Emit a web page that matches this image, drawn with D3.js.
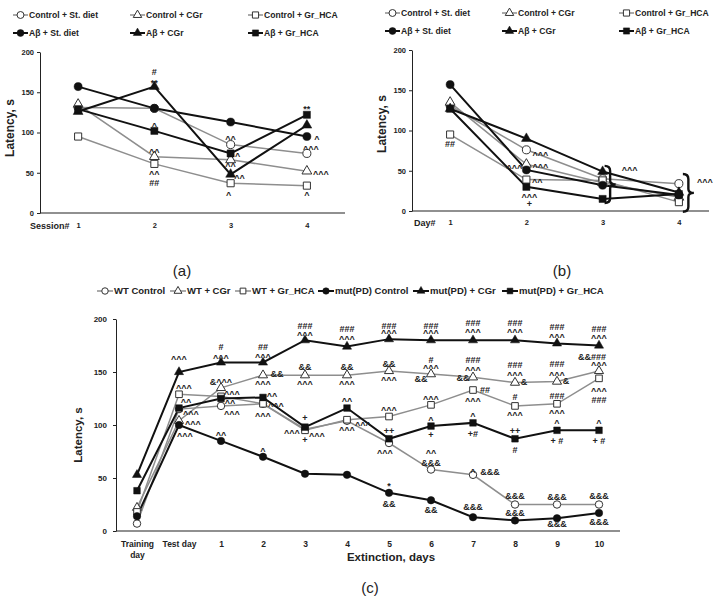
<!DOCTYPE html>
<html><head><meta charset="utf-8">
<script src="https://cdn.jsdelivr.net/npm/d3@7"></script>
<style>
html,body{margin:0;padding:0;background:#fff;}
svg text{font-family:"Liberation Sans",Arial,sans-serif;font-weight:bold;fill:#222;}
</style></head>
<body><svg id="chart" width="724" height="601"></svg>
<script>
// ---------- DATA ----------
const sessionsA = ["1","2","3","4"];
const daysB = ["1","2","3","4"];
const groupsAB = ["Control + St. diet","Control + CGr","Control + Gr_HCA","Aβ + St. diet","Aβ + CGr","Aβ + Gr_HCA"];
const a_ctrlStDiet = [131,130,85,74];
const a_ctrlCGr    = [135,70,66,52];
const a_ctrlGrHCA  = [95,61,37,34];
const a_abStDiet   = [157,130,113,95];
const a_abCGr      = [126,157,48,109];
const a_abGrHCA    = [129,102,74,122];

const b_ctrlStDiet = [131,76,40,34];
const b_ctrlCGr    = [135,58,35,17];
const b_ctrlGrHCA  = [95,39,38,11];
const b_abStDiet   = [157,51,32,20];
const b_abCGr      = [127,90,49,23];
const b_abGrHCA    = [127,30,15,21];

const catsC = ["Training day","Test day","1","2","3","4","5","6","7","8","9","10"];
const groupsC = ["WT Control","WT + CGr","WT + Gr_HCA","mut(PD) Control","mut(PD) + CGr","mut(PD) + Gr_HCA"];
const c_wtControl  = [7,115,118,120,96,104,83,58,53,25,25,25];
const c_wtCGr      = [22,104,135,147,147,147,151,148,145,140,141,151];
const c_wtGrHCA    = [18,129,127,120,95,105,108,119,133,118,120,144];
const c_mutControl = [14,100,85,70,54,53,36,29,13,10,12,17];
const c_mutCGr     = [53,150,159,159,180,174,181,180,180,180,177,175];
const c_mutGrHCA   = [38,116,125,126,98,116,87,99,102,87,95,95];

const yTicks = [0,50,100,150,200];

// significance labels: [category, value-level, text, horizontal nudge]
const notesA = [
 ["2",175,"#",0],["2",165,"**",0],["2",110,"^",0],["2",78,"^^",0],["2",51,"^^",0],["2",38,"##",0],
 ["3",94,"^^",0],["3",73,"^",7],["3",61,"^^",0],["3",46,"^^",9],["3",25,"^",-2],
 ["4",132,"**",0],["4",94,"^",10],["4",82,"^^^",4],["4",51,"^^^",14],["4",25,"^",0]
];
const notesB = [
 ["1",84,"##",0],
 ["2",72,"^^^",14],["2",57,"^^^",14],["2",55,"^^^",-12],["2",38,"^^",11],["2",19,"^^^",3],["2",9,"+",3],
 ["3",53,"^^^",27],["4",38,"^^^",26]
];
const bracesB = [["3",10,56,2],["4",-1,46,4]];
const notesC = [
 ["Test day",164,"^^^",0],["Test day",137,"^^^",5],["Test day",123,"^^",7],["Test day",112,"^^^",12],["Test day",103,"^^^",14],["Test day",91,"^^^",6],
 ["1",174,"#",0],["1",165,"^^^",0],["1",141,"&^^^",0],["1",131,"^^^",11],["1",122,"^^",9],["1",112,"^^^",11],["1",92,"^^",0],
 ["2",174,"##",0],["2",166,"^^^",0],["2",148,"&&",14],["2",140,"^^^",0],["2",129,"^^",9],["2",120,"^^^",13],["2",110,"^^^",0],["2",77,"^",0],
 ["3",194,"###",0],["3",187,"^^^",0],["3",155,"&&",0],["3",140,"^^^",0],["3",107,"+",0],["3",94,"^^^",-13],["3",91,"^^^",12],["3",86,"+",0],
 ["4",191,"###",0],["4",183,"^^^",0],["4",155,"&&",0],["4",140,"^^^",0],["4",124,"^^",0],["4",102,"^^^",16],["4",97,"^^^",0],
 ["5",194,"###",0],["5",188,"^^^",0],["5",158,"&&",0],["5",144,"^^^",0],["5",116,"^^^",0],["5",95,"++",0],["5",75,"^^^",-4],["5",45,"*",0],["5",26,"&&",0],
 ["6",194,"###",0],["6",188,"^^^",0],["6",162,"#",0],["6",155,"^^^",0],["6",144,"&&",-10],["6",126,"^^^",0],["6",106,"^",0],["6",91,"+",0],["6",75,"^^",0],["6",64,"&&&",0],["6",20,"&&",0],
 ["7",196,"###",0],["7",189,"^^^",0],["7",162,"###",0],["7",154,"^^^",0],["7",145,"&&",-10],["7",133,"##",12],["7",124,"^^^",0],["7",110,"^",0],["7",92,"+#",0],["7",57,"^",0],["7",56,"&&&",17],["7",23,"&&&",0],
 ["8",196,"###",0],["8",189,"^^^",0],["8",157,"###",0],["8",149,"^^^",0],["8",141,"&",9],["8",127,"#",0],["8",111,"^^^",0],["8",95,"++",0],["8",77,"#",0],["8",33,"&&&",0],["8",17,"&&&",0],
 ["9",193,"###",0],["9",185,"^^^",0],["9",158,"###",0],["9",149,"^^^",0],["9",142,"&",9],["9",128,"###",0],["9",113,"^^^",0],["9",104,"^",0],["9",85,"+ #",0],["9",32,"&&&",0],["9",7,"&&&",0],
 ["10",191,"###",0],["10",184,"^^^",0],["10",164,"&&###",-7],["10",158,"^^^",0],["10",134,"^^^",0],["10",124,"###",0],["10",104,"^",0],["10",85,"+ #",0],["10",33,"&&&",0],["10",9,"&&&",0]
];

// ---------- STYLE ----------
const GRAY = "#8e8e8e", BLACK = "#111";
const seriesStyle = [
 {color:GRAY, shape:d3.symbolCircle, filled:false, w:1.5},
 {color:GRAY, shape:d3.symbolTriangle, filled:false, w:1.5},
 {color:GRAY, shape:d3.symbolSquare, filled:false, w:1.5},
 {color:BLACK, shape:d3.symbolCircle, filled:true, w:2},
 {color:BLACK, shape:d3.symbolTriangle, filled:true, w:2},
 {color:BLACK, shape:d3.symbolSquare, filled:true, w:2}
];
const svg = d3.select("#chart");

function symSize(shape, k){
  if (shape===d3.symbolCircle) return 46*k;
  if (shape===d3.symbolSquare) return 46*k;
  return 38*k;
}
function drawMarker(g, st, x, y, k){
  g.append("path")
   .attr("d", d3.symbol().type(st.shape).size(symSize(st.shape,k))())
   .attr("transform", `translate(${x},${y})`)
   .attr("fill", st.filled ? BLACK : "#fff")
   .attr("stroke", st.filled ? BLACK : "#333")
   .attr("stroke-width", st.filled ? 0.5 : 1);
}
function noteOffset(t, fs){
  if (/^\^+$/.test(t)) return 0.53*fs;
  if (/^\*+$/.test(t)) return 0.6*fs;
  return 0.36*fs;
}

function drawPanel(o){
  const g = svg.append("g");
  const x = d3.scalePoint().domain(o.cats).range(o.xr).padding(0.5);
  const y = d3.scaleLinear().domain([0,200]).range(o.yr);
  const ya = g.append("g").attr("transform",`translate(${o.xr[0]},0)`)
    .call(d3.axisLeft(y).tickValues(yTicks).tickSize(3).tickSizeOuter(0).tickPadding(o.tickPad));
  ya.select(".domain").attr("stroke","#222").attr("stroke-width",1);
  ya.selectAll(".tick line").attr("stroke","#222");
  ya.selectAll(".tick text").attr("font-size",o.tickFs).attr("font-family",null).attr("fill","#222");
  g.append("line").attr("x1",o.xr[0]).attr("x2",o.axisEnd).attr("y1",o.yr[0]).attr("y2",o.yr[0])
    .attr("stroke","#222").attr("stroke-width",1.2);
  const xa = g.append("g").attr("transform",`translate(0,${o.yr[0]})`)
    .call(d3.axisBottom(x).tickSize(0).tickPadding(o.xPad));
  xa.select(".domain").remove();
  xa.selectAll(".tick text").attr("font-size",o.xFs).attr("font-family",null).attr("fill","#222")
    .each(function(d){
      const words = d.split(" ");
      if (o.wrap && words.length>1 && d!=="Test day"){
        const t = d3.select(this); t.text(null);
        words.forEach((w,i)=>t.append("tspan").attr("x",0).attr("dy", i===0 ? "0.71em" : "1.25em").text(w));
      }
    });
  o.series.forEach((vals,si)=>{
    const st = seriesStyle[si];
    g.append("path").datum(vals)
     .attr("d", d3.line().x((v,i)=>x(o.cats[i])).y(v=>y(v)))
     .attr("fill","none").attr("stroke",st.color).attr("stroke-width",st.w);
  });
  o.series.forEach((vals,si)=>{
    const st = seriesStyle[si];
    vals.forEach((v,i)=>drawMarker(g, st, x(o.cats[i]), y(v), o.mk));
  });
  o.notes.forEach(([c,v,t,dx])=>{
    g.append("text").attr("x",x(c)+dx).attr("y",y(v)+noteOffset(t,o.noteFs))
     .attr("text-anchor","middle").attr("font-size",o.noteFs).text(t);
  });
  o.legend.forEach((it,i)=>{
    const st = seriesStyle[i];
    g.append("line").attr("x1",it[0]).attr("x2",it[0]+o.legLine).attr("y1",it[1]).attr("y2",it[1])
      .attr("stroke",st.color).attr("stroke-width",st.w);
    drawMarker(g, st, it[0]+o.legLine/2, it[1], o.mk*0.75);
    g.append("text").attr("x",it[0]+o.legLine+1).attr("y",it[1]+0.36*o.legFs)
      .attr("font-size",o.legFs).text(o.names[i]);
  });
  g.append("text").attr("transform",`translate(${o.ylab[0]},${o.ylab[1]}) rotate(-90)`)
    .attr("text-anchor","middle").attr("font-size",o.ylabFs).text("Latency, s");
  return {g,x,y};
}

// Panel (a)
const pa = drawPanel({
  cats:sessionsA, xr:[40,345], yr:[213,52], axisEnd:345,
  series:[a_ctrlStDiet,a_ctrlCGr,a_ctrlGrHCA,a_abStDiet,a_abCGr,a_abGrHCA],
  names:groupsAB, notes:notesA, mk:1.1, noteFs:9, tickFs:7.5, tickPad:3, xFs:7.5, xPad:10,
  legend:[[13,15],[130,15],[248,15],[13,33],[130,33],[248,33]], legLine:15, legFs:8.6,
  ylab:[14,128], ylabFs:12
});
pa.g.append("text").attr("x",30).attr("y",229).attr("font-size",9).text("Session#");
svg.append("text").attr("x",182).attr("y",276).attr("text-anchor","middle")
  .attr("font-size",15).style("font-weight","normal").text("(a)");

// Panel (b)
const pb = drawPanel({
  cats:daysB, xr:[412,717], yr:[211,50], axisEnd:709,
  series:[b_ctrlStDiet,b_ctrlCGr,b_ctrlGrHCA,b_abStDiet,b_abCGr,b_abGrHCA],
  names:groupsAB, notes:notesB, mk:1.1, noteFs:9, tickFs:7.5, tickPad:3, xFs:7.5, xPad:9,
  legend:[[385,13],[502,13],[619,13],[385,31],[502,31],[619,31]], legLine:15, legFs:8.6,
  ylab:[386,124], ylabFs:12
});
pb.g.append("text").attr("x",414).attr("y",226).attr("font-size",9).text("Day#");
bracesB.forEach(([c,v1,v2,dx])=>{
  const x0 = pb.x(c)+dx, y1 = pb.y(v2), y2 = pb.y(v1), m=(y1+y2)/2, w=11;
  const p = d3.path();
  p.moveTo(x0,y1); p.quadraticCurveTo(x0+w/2,y1,x0+w/2,y1+5);
  p.lineTo(x0+w/2,m-4); p.quadraticCurveTo(x0+w/2,m,x0+w,m);
  p.quadraticCurveTo(x0+w/2,m,x0+w/2,m+4); p.lineTo(x0+w/2,y2-5);
  p.quadraticCurveTo(x0+w/2,y2,x0,y2);
  pb.g.append("path").attr("d",p.toString()).attr("fill","none").attr("stroke","#111").attr("stroke-width",2.4);
});
svg.append("text").attr("x",562).attr("y",276).attr("text-anchor","middle")
  .attr("font-size",15).style("font-weight","normal").text("(b)");

// Panel (c)
const pc = drawPanel({
  cats:catsC, xr:[116,620], yr:[531,319], axisEnd:620,
  series:[c_wtControl,c_wtCGr,c_wtGrHCA,c_mutControl,c_mutCGr,c_mutGrHCA],
  names:groupsC, notes:notesC, mk:0.95, noteFs:9, tickFs:8, tickPad:6, xFs:8.5, xPad:10, wrap:true,
  legend:[[97,291],[170,291],[235,291],[318,291],[413,291],[502,291]], legLine:16, legFs:9.5,
  ylab:[82,435], ylabFs:11.5
});
pc.g.append("text").attr("x",391).attr("y",561).attr("text-anchor","middle").attr("font-size",11.5).text("Extinction, days");
svg.append("text").attr("x",370).attr("y",593).attr("text-anchor","middle")
  .attr("font-size",15).style("font-weight","normal").text("(c)");
</script></body></html>
